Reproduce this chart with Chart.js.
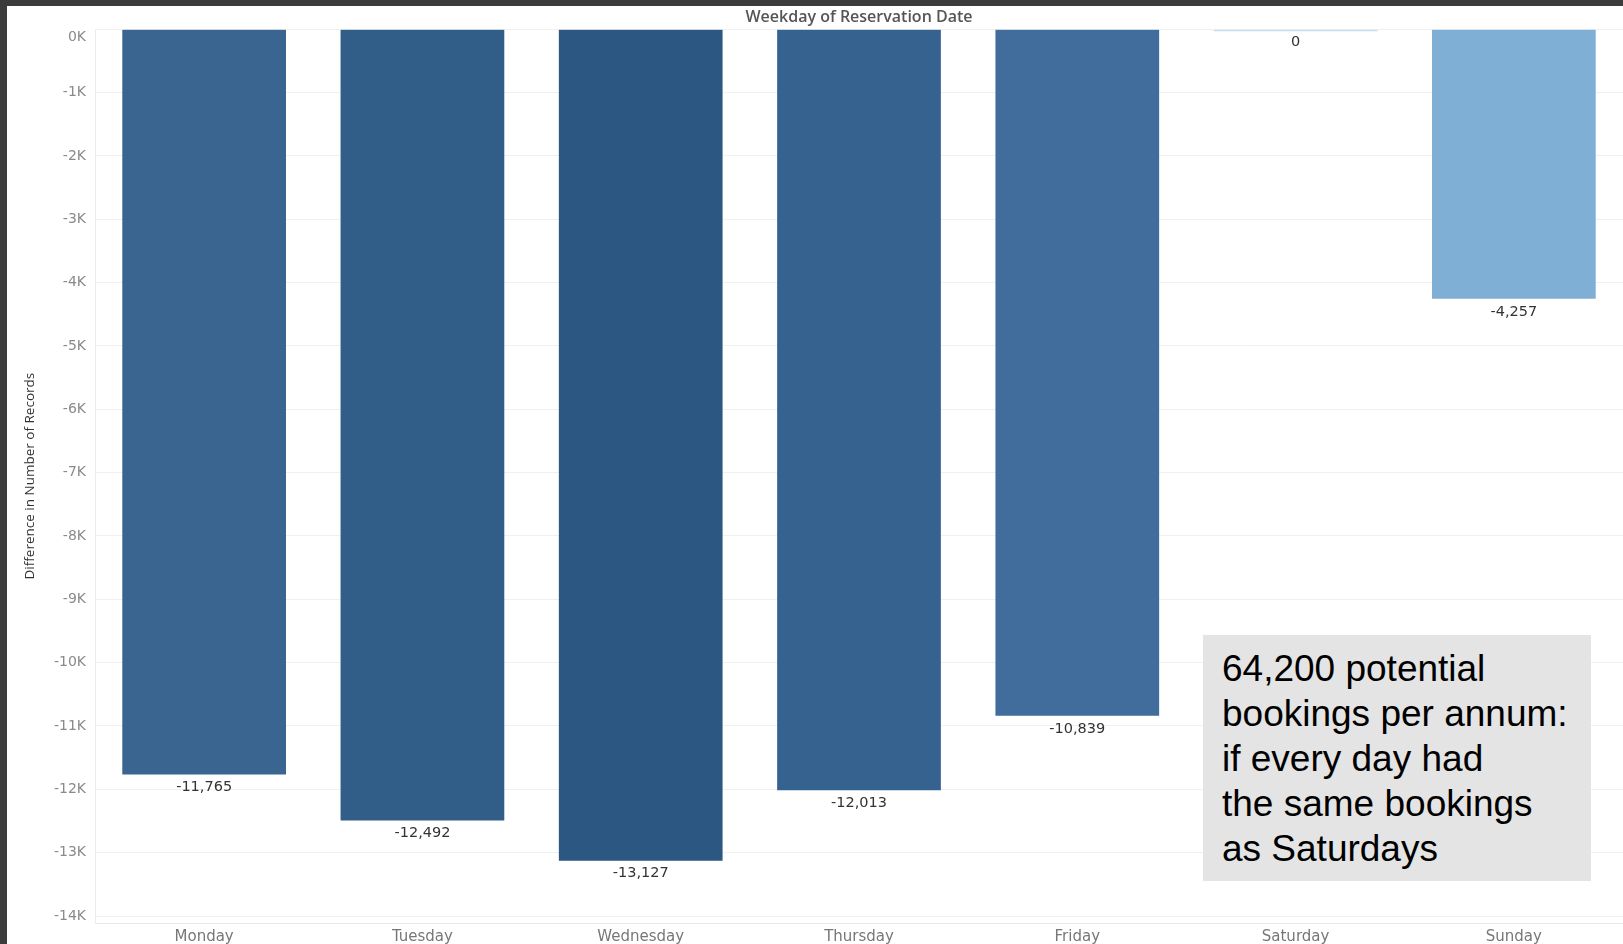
<!DOCTYPE html>
<html>
<head>
<meta charset="utf-8">
<script src="https://cdn.jsdelivr.net/npm/chart.js@4"></script>
<style>
  html, body { margin: 0; padding: 0; background: #3c3c3c; width: 1623px; height: 944px; overflow: hidden; }
  #wrap { position: absolute; left: 7px; top: 6px; width: 1616px; height: 938px; background: #fff; }
  #barChart { position: absolute; left: 0; top: 0; }
  #note {
    position: absolute; left: 1196px; top: 629px; width: 369px; height: 235px;
    background: #e4e4e4; padding: 11px 0 0 19px;
    font-family: "Liberation Sans", Arial, sans-serif; font-size: 37px; line-height: 45px; color: #000;
  }
</style>
</head>
<body>
<div id="wrap">
  <canvas id="barChart" width="1616" height="938"></canvas>
  <div id="note">64,200 potential<br>bookings per annum:<br>if every day had<br>the same bookings<br>as Saturdays</div>
</div>
<script>
const weekdays = ['Monday', 'Tuesday', 'Wednesday', 'Thursday', 'Friday', 'Saturday', 'Sunday'];
const diffRecords = [-11765, -12492, -13127, -12013, -10839, 0, -4257];
const barColors = ['#3a6591', '#315d89', '#2c5783', '#35628f', '#416d9c', '#c3dcef', '#80afd6'];
const yTicks = [-14000, -13000, -12000, -11000, -10000, -9000, -8000, -7000, -6000, -5000, -4000, -3000, -2000, -1000, 0];

// value labels under each bar end
const valueLabels = {
  id: 'valueLabels',
  afterDatasetsDraw(chart) {
    const ctx = chart.ctx;
    const meta = chart.getDatasetMeta(0);
    const yScale = chart.scales.y;
    ctx.save();
    ctx.font = '14.5px "DejaVu Sans"';
    ctx.fillStyle = '#333';
    ctx.textAlign = 'center';
    ctx.textBaseline = 'middle';
    meta.data.forEach((bar, i) => {
      ctx.fillText(diffRecords[i].toLocaleString('en-US'), bar.x, yScale.getPixelForValue(diffRecords[i]) + 13);
    });
    ctx.restore();
  }
};

const ctx = document.getElementById('barChart').getContext('2d');
const chart = new Chart(ctx, {
  type: 'bar',
  data: {
    labels: weekdays,
    datasets: [{
      label: 'Difference in Number of Records',
      data: diffRecords,
      backgroundColor: barColors,
      categoryPercentage: 1,
      barPercentage: 0.75,
      minBarLength: 2
    }]
  },
  options: {
    responsive: false,
    animation: false,
    devicePixelRatio: 1,
    layout: { padding: 0 },
    plugins: {
      legend: { display: false },
      tooltip: { enabled: false },
      title: {
        display: true,
        fullSize: false,
        text: 'Weekday of Reservation Date',
        color: '#555',
        font: { family: '"Open Sans"', size: 16, weight: '600' },
        padding: { top: 2, bottom: 2 }
      }
    },
    scales: {
      x: {
        grid: { display: false, drawTicks: false },
        border: { display: true, color: '#e8e8e8' },
        ticks: { color: '#777', font: { family: '"DejaVu Sans"', size: 15 }, padding: 5 },
        afterFit(scale) { scale.height = 21; }
      },
      y: {
        min: -14110,
        max: 0,
        grid: { color: '#f0f0f0', drawTicks: false },
        border: { display: true, color: '#ececec' },
        ticks: {
          padding: 9,
          color: '#8a8a8a',
          font: { family: '"DejaVu Sans"', size: 14 },
          // top label sits just below the zero line, like Tableau does
          callback: v => v === 0 ? ['', '0K'] : (v / 1000) + 'K'
        },
        afterBuildTicks(scale) { scale.ticks = yTicks.map(value => ({ value })); },
        title: {
          display: true,
          text: 'Difference in Number of Records',
          color: '#333',
          font: { family: '"Open Sans"', size: 13.5 },
          padding: { top: 15 }
        },
        afterFit(scale) {
          scale.width = 88;
          scale.paddingTop = 0;
          scale.paddingBottom = 0;
        }
      }
    }
  },
  plugins: [valueLabels]
});
</script>
</body>
</html>
